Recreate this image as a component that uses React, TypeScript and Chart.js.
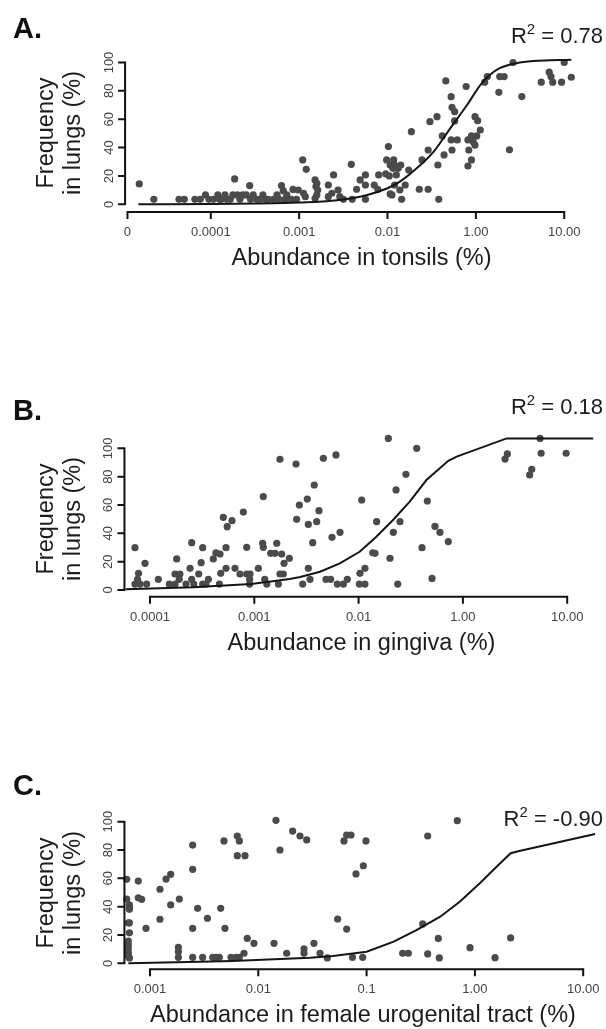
import React, { useEffect, useRef } from "react";
import { Chart, registerables } from "chart.js";

Chart.register(...registerables);

// ---------- shared ----------
const Y_TICKS = [0, 20, 40, 60, 80, 100];

// ---------- Panel A (tonsils) : x = position on the evenly spaced abundance axis ----------
const A_TICK_POS = [0.057, 1, 2, 3, 4, 5];
const A_TICK_LABELS = ["0", "0.0001", "0.001", "0.01", "1.00", "10.00"];
const A_X = [
  0.19, 0.355, 0.64, 0.7, 0.82, 0.88, 0.94, 0.98, 1.03, 1.08, 1.1, 1.12, 1.16, 1.18, 1.22, 1.25, 1.27, 1.3,
  1.33, 1.36, 1.4, 1.44, 1.45, 1.48, 1.52, 1.56, 1.59, 1.62, 1.65, 1.71, 1.75, 1.77, 1.8, 1.82, 1.84, 1.86,
  1.91, 1.93, 1.97,
  2.04, 2.08, 1.99, 2.05, 2.07, 2.18, 2.2, 2.19, 2.21, 2.2, 2.18, 2.33, 2.33, 2.39, 2.37, 2.44, 2.46, 2.5,
  2.59, 2.6, 2.65, 2.69, 2.75, 2.75, 2.75, 2.85, 2.89, 2.9, 2.99, 3.01, 2.98, 3.03, 3.07, 3.06, 3.08, 3.12,
  3.15, 3.1, 3.02, 3.05, 3.03, 3.08, 3.14, 3.2, 3.16, 3.24, 3.27, 3.36, 3.39, 3.46, 3.46, 3.48, 3.56, 3.57,
  3.58, 3.62, 3.64, 3.66, 3.72, 3.73, 3.76, 3.76, 3.72, 3.79, 3.73, 3.89, 3.91, 3.92, 3.95, 3.97, 3.99,
  3.91, 3.95, 3.99, 4.02, 4.05, 4.01, 4.1, 4.13, 4.27, 4.32, 4.42, 4.26, 4.52, 4.38, 4.74, 4.83, 4.85,
  4.87, 4.97, 5.0, 5.08,
];
const A_Y = [
  14.4, 3.5, 3.5, 3.5, 3.5, 3.5, 6.6, 3.5, 3.5, 6.6, 3.5, 3.5, 6.6, 3.5, 3.5, 6.6, 17.9, 6.6,
  3.5, 6.6, 6.6, 13.2, 3.5, 6.6, 3.5, 3.5, 6.6, 3.5, 3.5, 3.5, 6.6, 3.5, 13.2, 9.6, 3.5, 6.6,
  3.5, 10.5, 3.5,
  31.3, 24.7, 10.1, 7.8, 5.4, 17.2, 14.8, 12.5, 10.1, 6.6, 4.2, 13.6, 5.4, 20.7, 7.8, 10.1, 5.4, 3.5,
  28.2, 3.5, 10.6, 17.2, 20.7, 13.6, 3.5, 13.6, 10.6, 20.7, 31.3, 40.7, 21.4, 27.7, 31.3, 25.4, 27.7, 25.4,
  27.7, 20.7, 20, 6.6, 7.3, 13.6, 10.1, 13.6, 3.5, 24.2, 51.2, 10.6, 31.3, 10.6, 38.3, 58.3, 61.8, 27.7,
  3.5, 48.2, 34.8, 87, 75.9, 68.4, 65.3, 58.8, 45.4, 45.4, 38.3, 83, 45.4, 38.3, 48.2, 44.2, 41.8,
  27, 31.3, 61.8, 59, 52.4, 48.2, 86.1, 90.1, 90.1, 90.1, 100, 79, 76, 38.4, 86.1, 93.2, 90.1,
  86.1, 86.1, 100, 89.6,
];
const A_FIT_X = [0.18, 1.0, 1.5, 2.0, 2.4, 2.77, 3.0, 3.14, 3.33, 3.52, 3.71, 3.9, 4.05, 4.16, 4.27, 4.46, 4.65, 5.08];
const A_FIT_Y = [0, 0.2, 0.5, 1.2, 2.6, 6.6, 11.3, 16, 25.4, 37, 53.6, 70, 84, 91.3, 96, 99.5, 101, 102];

// ---------- Panel B (gingiva) ----------
const B_TICK_POS = [0, 1, 2, 3, 4];
const B_TICK_LABELS = ["0.0001", "0.001", "0.01", "1.00", "10.00"];
const B_X = [
  -0.144, -0.11, -0.12, -0.144, -0.096, -0.048, -0.032, 0.08, 0.185, 0.24, 0.256, 0.24, 0.287, 0.28, 0.345,
  0.384, 0.4, 0.4, 0.42, 0.467, 0.49, 0.505, 0.505, 0.537, 0.56, 0.607, 0.632, 0.671, 0.665, 0.678, 0.703,
  0.729, 0.729, 0.74, 0.786, 0.815, 0.863, 0.895, 0.927, 0.927, 0.959, 0.955, 0.955, 1.039, 1.086, 1.08,
  1.086, 1.1, 1.12, 1.157, 1.199, 1.215, 1.231, 1.246, 1.263, 1.246, 1.278, 1.285, 1.336, 1.4, 1.406, 1.432,
  1.464, 1.508, 1.518, 1.518, 1.534, 1.56, 1.575, 1.598, 1.62, 1.662, 1.687, 1.732, 1.745, 1.783, 1.796,
  1.822, 1.854, 1.892, 2.007, 2.013, 2.03, 2.061, 2.061, 2.135, 2.157, 2.173, 2.285, 2.301, 2.333, 2.359,
  2.375, 2.397, 2.454, 2.557, 2.608, 2.659, 2.704, 2.732, 2.78, 2.86, 3.404, 3.426, 3.66, 3.64, 3.74, 3.75,
  3.99,
];
const B_Y = [
  29.9, 11.8, 7.5, 4.2, 4.2, 18.8, 4.2, 7.5, 4.2, 4.2, 21.9, 11.3, 11.3, 7.5, 4.2,
  15.3, 33.4, 7.5, 4.2, 11.3, 19.3, 29.9, 4.2, 4.2, 7.5, 21.9, 26.3, 25.4, 4.2, 11.8, 51.3,
  29.9, 15.3, 44.7, 48.9, 15.3, 11.3, 55, 30.1, 11.3, 11.3, 7.5, 4.2, 15.3, 65.9, 33,
  30.1, 7.5, 4.2, 25.9, 25.9, 33, 4.2, 92.2, 25.4, 11.3, 11.3, 18.8, 22.4, 88.9, 49.9, 60,
  4.2, 64.2, 46.3, 15.3, 7.5, 33.4, 74.1, 48.2, 56, 92.9, 7.5, 7.5, 37.2, 95.3, 4.2,
  40.7, 4.2, 7.5, 4.2, 11.8, 63.5, 15.3, 4.2, 26.3, 25.9, 48.2, 107, 22.4, 40.7, 70.6,
  4.2, 48.2, 81.6, 100, 29.9, 62.8, 8.2, 44.9, 40.7, 34.2, 92.4, 96, 85.2, 81.2, 107, 96.5,
  96.5,
];
const B_FIT_X = [-0.234, 0.414, 0.97, 1.34, 1.44, 1.63, 1.82, 2.01, 2.17, 2.33, 2.49, 2.65, 2.86, 2.94, 3.42, 4.25];
const B_FIT_Y = [0.5, 1.9, 4.2, 7.8, 9.2, 12.9, 18.8, 27, 37.6, 49.4, 62.3, 77.6, 91.2, 94.1, 107, 107];

// ---------- Panel C (female urogenital tract) ----------
const C_TICK_POS = [0, 1, 2, 3, 4];
const C_TICK_LABELS = ["0.001", "0.01", "0.1", "1.00", "10.00"];
const C_X = [
  -0.215, -0.215, -0.19, -0.19, -0.19, -0.2, -0.19, -0.19, -0.2, -0.2, -0.2, -0.2, -0.2, -0.19,
  -0.108, -0.108, -0.077, -0.037, 0.092, 0.092, 0.148, 0.191, 0.191, 0.271, 0.262, 0.262, 0.262,
  0.394, 0.394, 0.394, 0.394, 0.44, 0.486, 0.53, 0.579, 0.61, 0.64, 0.653, 0.683, 0.692, 0.748, 0.794,
  0.806, 0.825, 0.806, 0.877, 0.825, 0.868, 0.898, 0.96, 1.145, 1.163, 1.2, 1.262, 1.317, 1.385, 1.422,
  1.422, 1.447, 1.514, 1.57, 1.637, 1.733, 1.816, 1.791, 1.816, 1.856, 1.87, 1.902, 1.97, 1.994, 1.964,
  2.333, 2.385, 2.518, 2.564, 2.564, 2.662, 2.671, 2.837, 2.955, 3.186, 3.33,
];
const C_Y = [
  59.3, 45.4, 41.2, 39.3, 38.1, 28.6, 28.6, 21.5, 15.6, 12.8, 10.2, 7.3, 5, 3.8,
  58.1, 46.3, 45.2, 24.7, 52.3, 31.1, 59.5, 62.8, 41.2, 45.4, 11.3, 8.2, 4.2,
  83.5, 66.4, 24.7, 4.2, 38.8, 4.2, 31.8, 4.2, 4.2, 4.2, 38.8, 86.4, 24.7, 4.2, 4.2,
  89.9, 86.4, 76, 76, 4.2, 7.1, 17.6, 14.1, 14.1, 101, 80, 7.1, 93.4, 89.9, 10.2,
  7.1, 87.1, 14.1, 7.1, 3.8, 31.3, 24.2, 86.4, 90.6, 90.6, 4.2, 63.1, 68.9, 86.4, 4.2,
  7.1, 7.1, 27.8, 89.9, 6.6, 17.6, 3.8, 100.7, 11, 4.0, 17.9,
];
const C_FIT_X = [-0.2, 0.46, 0.76, 1.48, 1.69, 2.0, 2.25, 2.46, 2.68, 2.86, 3.05, 3.2, 3.33, 3.42, 4.11];
const C_FIT_Y = [0, 1.1, 1.6, 4, 5.2, 8.2, 15.3, 23.5, 32.9, 43.5, 56.9, 68.2, 77.7, 79.5, 91.3];

// ---------- layout (page pixels) ----------
const FONT = '"Liberation Sans", Arial, Helvetica, sans-serif';
const PAGE_W = 606;

type Panel = {
  id: string;
  letter: string;
  r2: string;
  xTitle: string;
  xs: number[];
  ys: number[];
  fitX: number[];
  fitY: number[];
  tickPos: number[];
  tickLabels: string[];
  smooth: boolean;
  xMin: number;
  xMax: number;
  yMin: number;
  yMax: number;
  canvasTop: number;
  canvasH: number;
  area: { left: number; right: number; top: number; bottom: number };
  letterBase: number;
  r2Base: number;
  yTitleCY: number;
  xTitleCX: number;
  xTitleBase: number;
};

const PANELS: Panel[] = [
  {
    id: "A", letter: "A.", r2: "0.78", xTitle: "Abundance in tonsils (%)",
    xs: A_X, ys: A_Y, fitX: A_FIT_X, fitY: A_FIT_Y, tickPos: A_TICK_POS, tickLabels: A_TICK_LABELS, smooth: true,
    xMin: 0.03, xMax: 5.38, yMin: -5.4, yMax: 108,
    canvasTop: 0, canvasH: 300,
    area: { left: 125.1, right: 597.8, top: 51.16, bottom: 211.96 },
    letterBase: 39, r2Base: 43.3, yTitleCY: 133.4, xTitleCX: 361.5, xTitleBase: 266,
  },
  {
    id: "B", letter: "B.", r2: "0.18", xTitle: "Abundance in gingiva (%)",
    xs: B_X, ys: B_Y, fitX: B_FIT_X, fitY: B_FIT_Y, tickPos: B_TICK_POS, tickLabels: B_TICK_LABELS, smooth: false,
    xMin: -0.245, xMax: 4.295, yMin: -4.73, yMax: 110,
    canvasTop: 330, canvasH: 360,
    area: { left: 124.45, right: 597.97, top: 434.13, bottom: 596.7 },
    letterBase: 420.5, r2Base: 415, yTitleCY: 519, xTitleCX: 361.5, xTitleBase: 650.5,
  },
  {
    id: "C", letter: "C.", r2: "-0.90", xTitle: "Abundance in female urogenital tract (%)",
    xs: C_X, ys: C_Y, fitX: C_FIT_X, fitY: C_FIT_Y, tickPos: C_TICK_POS, tickLabels: C_TICK_LABELS, smooth: false,
    xMin: -0.236, xMax: 4.137, yMin: -4.24, yMax: 110,
    canvasTop: 700, canvasH: 329,
    area: { left: 124.44, right: 598.04, top: 807.54, bottom: 969.3 },
    letterBase: 796, r2Base: 827, yTitleCY: 892.5, xTitleCX: 363, xTitleBase: 1023,
  },
];

// R-style axes: lines span first..last tick, drawn through the chart's own scales
const rAxisPlugin = {
  id: "rAxis",
  afterDatasetsDraw(chart: any, _args: any, opts: any) {
    const { ctx, chartArea, scales } = chart;
    const xs = scales.x;
    const ys = scales.y;
    const tickPos: number[] = opts.tickPos;
    const tickLabels: string[] = opts.tickLabels;
    ctx.save();
    ctx.strokeStyle = "#111";
    ctx.lineWidth = 2;
    ctx.lineCap = "butt";

    // y axis
    const x0 = chartArea.left;
    ctx.beginPath();
    ctx.moveTo(x0, ys.getPixelForValue(Y_TICKS[Y_TICKS.length - 1]));
    ctx.lineTo(x0, ys.getPixelForValue(Y_TICKS[0]));
    Y_TICKS.forEach((t) => {
      const y = ys.getPixelForValue(t);
      ctx.moveTo(x0 + 1, y);
      ctx.lineTo(x0 - 7, y);
    });
    ctx.stroke();

    ctx.fillStyle = "#444";
    ctx.font = `13px ${FONT}`;
    ctx.textAlign = "center";
    ctx.textBaseline = "alphabetic";
    Y_TICKS.forEach((t) => {
      const y = ys.getPixelForValue(t);
      ctx.save();
      ctx.translate(x0 - 12.5, y);
      ctx.rotate(-Math.PI / 2);
      ctx.fillText(String(t), 0, 0);
      ctx.restore();
    });

    // x axis
    const yb = chartArea.bottom;
    ctx.beginPath();
    ctx.moveTo(xs.getPixelForValue(tickPos[0]) - 1, yb);
    ctx.lineTo(xs.getPixelForValue(tickPos[tickPos.length - 1]) + 1, yb);
    tickPos.forEach((t) => {
      const x = xs.getPixelForValue(t);
      ctx.moveTo(x, yb - 1);
      ctx.lineTo(x, yb + 7);
    });
    ctx.stroke();
    tickPos.forEach((t, i) => {
      ctx.fillText(tickLabels[i], xs.getPixelForValue(t), yb + 24);
    });
    ctx.restore();
  },
};

function PanelChart({ p }: { p: Panel }) {
  const ref = useRef<HTMLCanvasElement | null>(null);
  useEffect(() => {
    if (!ref.current) return;
    const pts = p.xs.map((x, i) => ({ x, y: p.ys[i] }));
    const fit = p.fitX.map((x, i) => ({ x, y: p.fitY[i] }));
    const chart = new Chart(ref.current, {
      type: "scatter",
      data: {
        datasets: [
          {
            type: "line",
            data: fit,
            borderColor: "#151515",
            borderWidth: 2,
            pointRadius: 0,
            fill: false,
            tension: 0,
            cubicInterpolationMode: p.smooth ? "monotone" : "default",
            order: 0,
            clip: false,
          } as any,
          {
            type: "scatter",
            data: pts,
            backgroundColor: "#4b4b4b",
            borderWidth: 0,
            pointRadius: 3.6,
            order: 1,
            clip: false,
          } as any,
        ],
      },
      options: {
        responsive: false,
        animation: false,
        devicePixelRatio: 1,
        events: [],
        layout: {
          padding: {
            left: p.area.left,
            right: PAGE_W - p.area.right,
            top: p.area.top - p.canvasTop,
            bottom: p.canvasTop + p.canvasH - p.area.bottom,
          },
        },
        plugins: {
          legend: { display: false },
          tooltip: { enabled: false },
          rAxis: { tickPos: p.tickPos, tickLabels: p.tickLabels },
        } as any,
        scales: {
          x: { type: "linear", min: p.xMin, max: p.xMax, display: false },
          y: { type: "linear", min: p.yMin, max: p.yMax, display: false },
        },
      },
      plugins: [rAxisPlugin as any],
    });
    return () => chart.destroy();
  }, [p]);
  return (
    <canvas
      ref={ref}
      width={PAGE_W}
      height={p.canvasH}
      style={{ position: "absolute", left: 0, top: p.canvasTop, width: PAGE_W, height: p.canvasH }}
    />
  );
}

function textTop(base: number, size: number) {
  return base - 0.8465 * size;
}

export default function App() {
  const TITLE = 23.5;
  const R2 = 22;
  const LET = 29;
  return (
    <div
      style={{
        position: "absolute",
        left: 0,
        top: 0,
        width: PAGE_W,
        height: 1029,
        background: "#fff",
        fontFamily: FONT,
        color: "#1c1c1c",
        overflow: "hidden",
      }}
    >
      {PANELS.map((p) => (
        <React.Fragment key={p.id}>
          <PanelChart p={p} />
          <div
            style={{
              position: "absolute", left: 13, top: textTop(p.letterBase, LET),
              fontSize: LET, lineHeight: 1, fontWeight: "bold", whiteSpace: "nowrap", color: "#111",
            }}
          >
            {p.letter}
          </div>
          <div
            style={{
              position: "absolute", right: PAGE_W - 603, top: textTop(p.r2Base, R2),
              fontSize: R2, lineHeight: 1, whiteSpace: "nowrap",
            }}
          >
            R<span style={{ fontSize: "0.68em", position: "relative", top: "-0.6em" }}>2</span> = {p.r2}
          </div>
          <div
            style={{
              position: "absolute", left: 58.5, top: p.yTitleCY,
              transform: "translate(-50%, -50%) rotate(-90deg)",
              fontSize: TITLE, lineHeight: "27px", textAlign: "center", whiteSpace: "nowrap",
            }}
          >
            <div>Frequency</div>
            <div>in lungs (%)</div>
          </div>
          <div
            style={{
              position: "absolute", left: p.xTitleCX, top: textTop(p.xTitleBase, TITLE),
              transform: "translateX(-50%)",
              fontSize: TITLE, lineHeight: 1, whiteSpace: "nowrap",
            }}
          >
            {p.xTitle}
          </div>
        </React.Fragment>
      ))}
    </div>
  );
}
